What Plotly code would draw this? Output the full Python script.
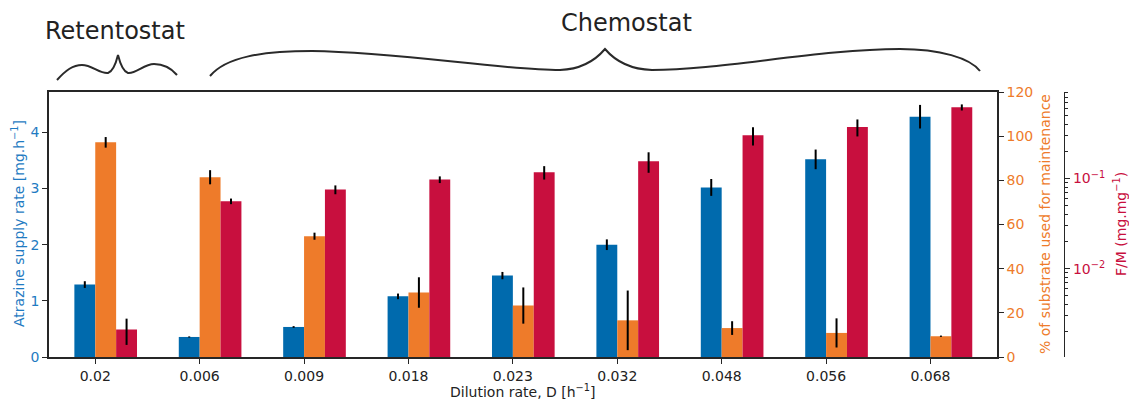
import plotly.graph_objects as go

# ---------------- data ----------------
dilution_labels = ["0.02", "0.006", "0.009", "0.018", "0.023", "0.032", "0.048", "0.056", "0.068"]
atrazine_supply = [1.29, 0.357, 0.535, 1.08, 1.45, 2.00, 3.02, 3.52, 4.28]
atrazine_err = [0.06, 0.01, 0.015, 0.05, 0.065, 0.095, 0.15, 0.175, 0.21]
maintenance_pct = [97.2, 81.4, 54.7, 29.2, 23.3, 16.6, 13.1, 10.9, 9.4]
maintenance_err = [2.4, 3.2, 1.6, 6.9, 8.2, 13.5, 3.1, 6.6, 0.3]
fm_ratio = [0.0021, 0.056, 0.0755, 0.0975, 0.1175, 0.156, 0.303, 0.374, 0.619]
fm_err = [0.00068, 0.004, 0.0085, 0.0083, 0.02, 0.04, 0.07, 0.08, 0.048]
fm_ticks = [0.01, 0.1]
fm_ticktext = ["10<sup>−2</sup>", "10<sup>−1</sup>"]

# ---------------- style / geometry ----------------
W, H = 1129, 400
ML, MR, MT, MB = 49, 65, 92, 43
PW, PH = W - ML - MR, H - MT - MB
FONT = "DejaVu Sans"
BLUE, ORANGE, RED = "#006AAD", "#EE7B2A", "#C80F3E"
BLUE_TXT = "#1F7BC2"
SPINE = "#262626"
idx = list(range(len(dilution_labels)))


def px(xp):
    return (xp - ML) / PW


def py(yp):
    return (H - MB - yp) / PH


fig = go.Figure()
fig.add_trace(go.Bar(
    x=idx, y=atrazine_supply, width=0.2, offset=-0.2, marker_color=BLUE,
    marker_line_width=0, yaxis="y",
    error_y=dict(type="data", array=atrazine_err, color="black", thickness=2, width=0),
    name="Atrazine supply rate"))
fig.add_trace(go.Bar(
    x=idx, y=maintenance_pct, width=0.2, offset=0.0, marker_color=ORANGE,
    marker_line_width=0, yaxis="y2",
    error_y=dict(type="data", array=maintenance_err, color="black", thickness=2, width=0),
    name="% maintenance"))
fig.add_trace(go.Bar(
    x=idx, y=fm_ratio, width=0.2, offset=0.2, marker_color=RED,
    marker_line_width=0, yaxis="y3",
    error_y=dict(type="data", array=fm_err, color="black", thickness=2, width=0),
    name="F/M"))

minor_vals = [k * 10 ** e for e in (-3, -2, -1) for k in range(2, 10)]

fig.update_layout(
    width=W, height=H,
    margin=dict(l=ML, r=MR, t=MT, b=MB, pad=0),
    paper_bgcolor="white", plot_bgcolor="white",
    showlegend=False, barmode="overlay",
    font=dict(family=FONT, size=14, color="#222"),
    xaxis=dict(
        domain=[0, px(997)], range=[-0.443, 8.637],
        tickmode="array", tickvals=idx, ticktext=dilution_labels,
        ticks="outside", ticklen=5, tickcolor=SPINE, tickwidth=1.2,
        showline=True, linecolor=SPINE, linewidth=1.5, mirror=True,
        showgrid=False, zeroline=False, automargin=False,
        tickfont=dict(size=14, color="#222"),
    ),
    yaxis=dict(
        range=[0, 4.72], tickvals=[0, 1, 2, 3, 4],
        ticks="outside", ticklen=5, tickcolor=SPINE, tickwidth=1.2,
        showline=True, linecolor=SPINE, linewidth=1.5,
        showgrid=False, zeroline=False, automargin=False,
        tickfont=dict(size=14, color=BLUE_TXT),
    ),
    yaxis2=dict(
        overlaying="y", side="right", anchor="x",
        range=[0, 120], tickvals=[0, 20, 40, 60, 80, 100, 120],
        ticks="outside", ticklen=5, tickcolor=SPINE, tickwidth=1.2,
        showline=True, linecolor=SPINE, linewidth=1.5,
        showgrid=False, zeroline=False, automargin=False,
        tickfont=dict(size=14, color=ORANGE),
    ),
    yaxis3=dict(
        overlaying="y", side="right", anchor="free", position=1,
        type="log", range=[-2.982, -0.038],
        tickmode="array", tickvals=fm_ticks, ticktext=fm_ticktext,
        ticks="outside", ticklen=5, tickcolor=SPINE, tickwidth=1.2,
        minor=dict(ticks="outside", ticklen=3, tickcolor=SPINE, tickwidth=1,
                   tickmode="array", tickvals=minor_vals, showgrid=False),
        showline=True, linecolor=SPINE, linewidth=1.2,
        showgrid=False, zeroline=False, automargin=False,
        tickfont=dict(size=14, color=RED),
    ),
)

# axis titles
fig.add_annotation(text="Atrazine supply rate [mg.h<sup>−1</sup>]", textangle=-90,
                   xref="paper", yref="paper", x=px(18), y=py(224),
                   showarrow=False, font=dict(size=14, color=BLUE_TXT),
                   xanchor="center", yanchor="middle")
fig.add_annotation(text="Dilution rate, D [h<sup>−1</sup>]",
                   xref="paper", yref="paper", x=px(523), y=py(391),
                   showarrow=False, font=dict(size=14, color="#222"),
                   xanchor="center", yanchor="middle")
fig.add_annotation(text="% of substrate used for maintenance", textangle=-90,
                   xref="paper", yref="paper", x=px(1045), y=py(224),
                   showarrow=False, font=dict(size=14, color=ORANGE),
                   xanchor="center", yanchor="middle")
fig.add_annotation(text="F/M (mg.mg<sup>−1</sup>)", textangle=-90,
                   xref="paper", yref="paper", x=px(1120), y=py(224),
                   showarrow=False, font=dict(size=14, color=RED),
                   xanchor="center", yanchor="middle")

# group labels
fig.add_annotation(text="Retentostat", xref="paper", yref="paper",
                   x=px(114.5), y=py(31), showarrow=False,
                   font=dict(size=24, color="#222"), xanchor="center", yanchor="middle")
fig.add_annotation(text="Chemostat", xref="paper", yref="paper",
                   x=px(626), y=py(23.5), showarrow=False,
                   font=dict(size=24, color="#222"), xanchor="center", yanchor="middle")


def pt(x, y):
    return f"{px(x):.5f},{py(y):.5f}"


ret_path = ("M " + pt(57, 80) +
            " C " + pt(66, 70) + " " + pt(73, 65) + " " + pt(82, 65) +
            " C " + pt(92, 65) + " " + pt(100, 74) + " " + pt(108, 73) +
            " Q " + pt(114, 71) + " " + pt(118, 55) +
            " Q " + pt(122, 71) + " " + pt(128, 73) +
            " C " + pt(136, 74) + " " + pt(144, 64) + " " + pt(154, 64) +
            " C " + pt(163, 64) + " " + pt(171, 68) + " " + pt(177, 75))
chem_path = ("M " + pt(210, 76) +
             " C " + pt(226, 57) + " " + pt(262, 51) + " " + pt(312, 51) +
             " C " + pt(400, 52) + " " + pt(500, 70) + " " + pt(560, 70) +
             " Q " + pt(588, 69) + " " + pt(605, 49) +
             " Q " + pt(622, 69) + " " + pt(652, 70) +
             " C " + pt(720, 70) + " " + pt(820, 49) + " " + pt(900, 49) +
             " C " + pt(940, 49) + " " + pt(970, 58) + " " + pt(980, 71))
for p in (ret_path, chem_path):
    fig.add_shape(type="path", path=p, xref="paper", yref="paper",
                  line=dict(color="#2a2a2a", width=2))

fig.write_html("out.html", config={"displayModeBar": False},
               post_script="document.body.style.margin='0';document.body.style.overflow='hidden';")
